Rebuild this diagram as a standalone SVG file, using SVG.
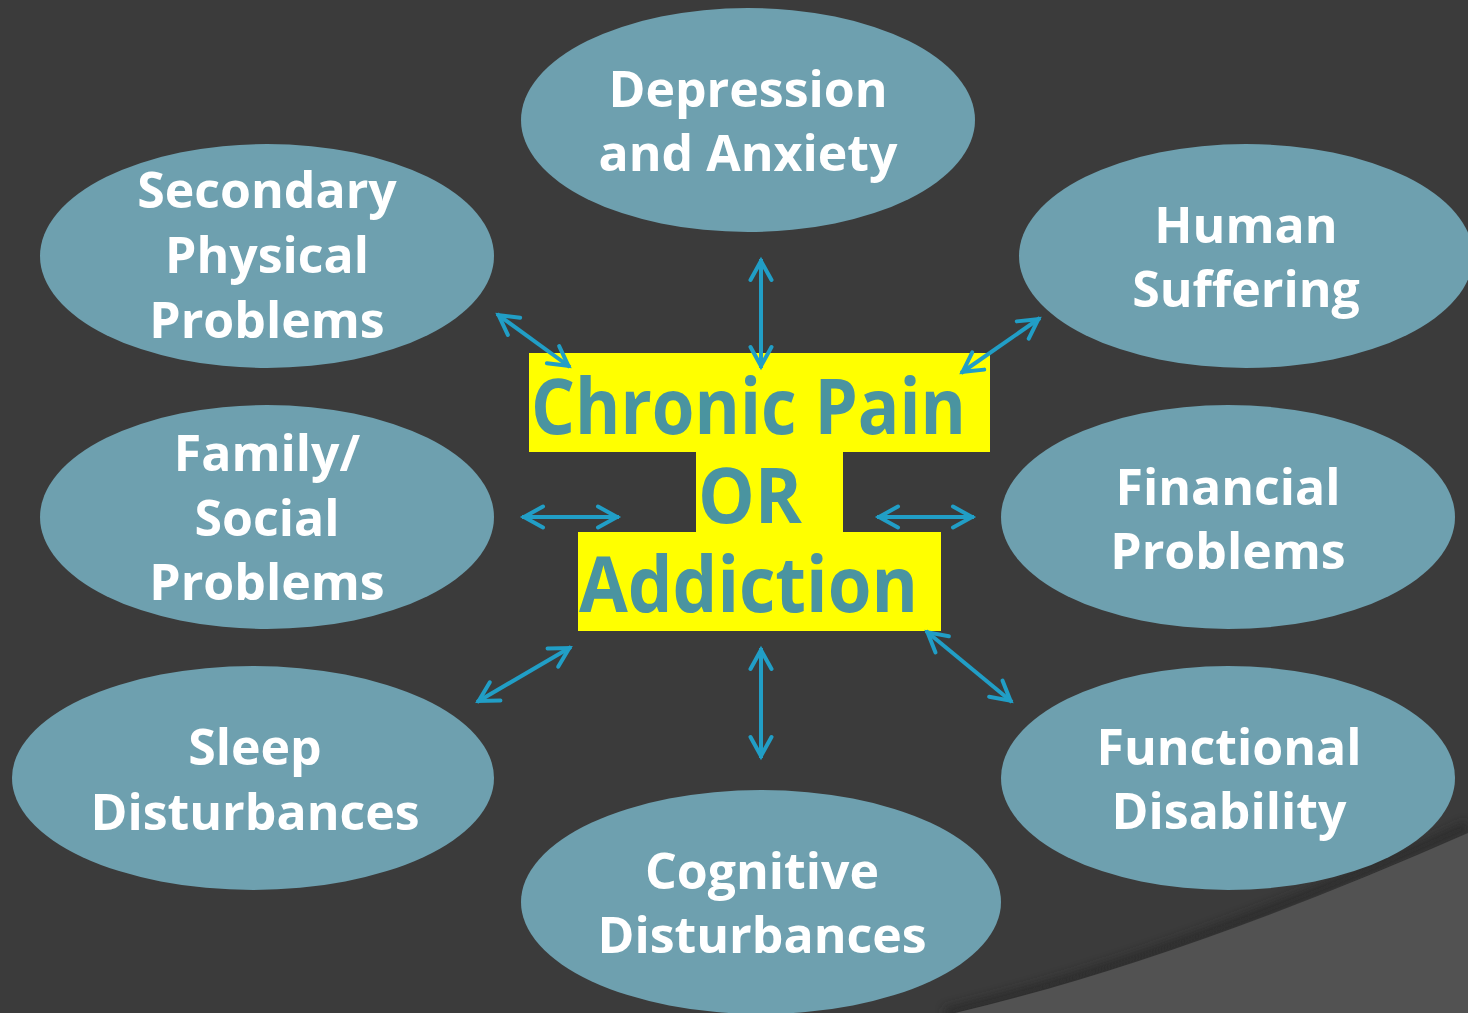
<svg xmlns="http://www.w3.org/2000/svg" width="1468" height="1013" viewBox="0 0 1468 1013">
<style>
.node{fill:#6ea0af}
.lbl{font-family:"Open Sans","Noto Sans","Liberation Sans",sans-serif;font-weight:700;font-size:50px;fill:#ffffff;text-anchor:middle}
.ctr{font-family:"Open Sans","Noto Sans","Liberation Sans",sans-serif;font-weight:700;font-size:77px;fill:#4a94a0}
.conn{fill:none;stroke:#219ec6;stroke-width:4;marker-start:url(#ah);marker-end:url(#ah)}
</style>
<defs>
<marker id="ah" viewBox="-28 -14 32 28" refX="0" refY="0" markerWidth="32" markerHeight="28" markerUnits="userSpaceOnUse" orient="auto-start-reverse" overflow="visible">
<path d="M-21,-10.5 L-2,0 L-21,10.5" fill="none" stroke="#219ec6" stroke-width="4" stroke-linecap="round" stroke-linejoin="miter"/>
</marker>
<filter id="blur" x="-10%" y="-50%" width="120%" height="200%"><feGaussianBlur stdDeviation="5"/></filter>
</defs>
<rect width="1468" height="1013" fill="#3b3b3b"/>
<path d="M945,1013 Q1175,958 1468,826" fill="none" stroke="#262626" stroke-width="10" opacity="0.7" filter="url(#blur)"/>
<path d="M955,1013 Q1180,960 1468,833 L1468,1013 Z" fill="#525252"/>

<g id="center">
<rect x="529" y="353" width="461" height="99" fill="#ffff00"/>
<rect x="696" y="451" width="147" height="82" fill="#ffff00"/>
<rect x="578" y="532" width="363" height="99" fill="#ffff00"/>
<text class="ctr" x="531" y="434" textLength="435" lengthAdjust="spacingAndGlyphs">Chronic Pain</text>
<text class="ctr" x="698" y="523" textLength="104" lengthAdjust="spacingAndGlyphs">OR</text>
<text class="ctr" x="579" y="612" textLength="339" lengthAdjust="spacingAndGlyphs">Addiction</text>
</g>

<g id="depression"><ellipse class="node" cx="748" cy="120" rx="227" ry="112"/>
<text class="lbl" x="748" y="107">Depression</text><text class="lbl" x="748" y="171">and Anxiety</text></g>

<g id="secondary"><ellipse class="node" cx="267" cy="256" rx="227" ry="112"/>
<text class="lbl" x="267" y="208">Secondary</text><text class="lbl" x="267" y="273">Physical</text><text class="lbl" x="267" y="338">Problems</text></g>

<g id="human"><ellipse class="node" cx="1246" cy="256" rx="227" ry="112"/>
<text class="lbl" x="1246" y="243">Human</text><text class="lbl" x="1246" y="307">Suffering</text></g>

<g id="family"><ellipse class="node" cx="267" cy="517" rx="227" ry="112"/>
<text class="lbl" x="267" y="471">Family/</text><text class="lbl" x="267" y="536">Social</text><text class="lbl" x="267" y="600">Problems</text></g>

<g id="financial"><ellipse class="node" cx="1228" cy="517" rx="227" ry="112"/>
<text class="lbl" x="1228" y="505">Financial</text><text class="lbl" x="1228" y="569">Problems</text></g>

<g id="sleep"><ellipse class="node" cx="253" cy="778" rx="241" ry="112"/>
<text class="lbl" x="255" y="765">Sleep</text><text class="lbl" x="255" y="830">Disturbances</text></g>

<g id="functional"><ellipse class="node" cx="1228" cy="778" rx="227" ry="112"/>
<text class="lbl" x="1229" y="765">Functional</text><text class="lbl" x="1229" y="829">Disability</text></g>

<g id="cognitive"><ellipse class="node" cx="761" cy="902" rx="240" ry="112"/>
<text class="lbl" x="762" y="889">Cognitive</text><text class="lbl" x="762" y="953">Disturbances</text></g>

<g id="connectors">
<line class="conn" x1="761" y1="259" x2="761" y2="368"/>
<line class="conn" x1="497" y1="314" x2="570" y2="367"/>
<line class="conn" x1="1040" y1="318" x2="961" y2="373"/>
<line class="conn" x1="522" y1="517" x2="619" y2="517"/>
<line class="conn" x1="877" y1="517" x2="974" y2="517"/>
<line class="conn" x1="477" y1="702" x2="571" y2="647"/>
<line class="conn" x1="761" y1="648" x2="761" y2="758"/>
<line class="conn" x1="926" y1="631" x2="1012" y2="702"/>
</g>
</svg>
